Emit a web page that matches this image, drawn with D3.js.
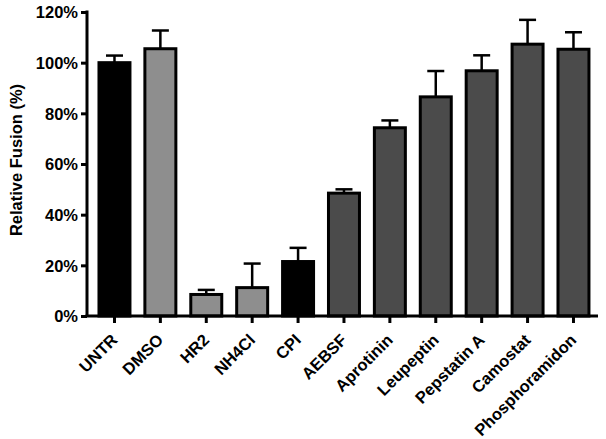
<!DOCTYPE html>
<html><head><meta charset="utf-8">
<script src="https://cdn.jsdelivr.net/npm/d3@7"></script>
<style>body{margin:0;background:#fff}svg{display:block}text{font-family:"Liberation Sans",Arial,sans-serif;font-weight:bold;fill:#000}</style>
</head><body>
<svg id="c" width="606" height="439"></svg>
<script>
const categories = ["UNTR","DMSO","HR2","NH4Cl","CPI","AEBSF","Aprotinin","Leupeptin","Pepstatin A","Camostat","Phosphoramidon"];
const values = [100, 105.5, 8.5, 11.2, 21.5, 48.5, 74.3, 86.5, 96.8, 107.3, 105.3];
const errors = [2.8, 7.2, 1.8, 9.5, 5.4, 1.5, 2.9, 10.2, 6.1, 9.6, 6.7];
const groups = ["black","light","light","light","black","dark","dark","dark","dark","dark","dark"];
const yTicks = [0,20,40,60,80,100,120];
const colors = {black:"#000000", light:"#8e8e8e", dark:"#4b4b4b"};

const svg = d3.select("#c");
const x = d3.scaleBand().domain(categories).range([87,598]).paddingInner(0.325).paddingOuter(0.229).align(0.57);
const y = d3.scaleLinear().domain([0,120]).range([316,12]);

// bars
const g = svg.append("g");
categories.forEach((c,i)=>{
  const bx = x(c), bw = x.bandwidth(), cx = bx + bw/2;
  g.append("line").attr("x1",cx).attr("x2",cx).attr("y1",y(values[i])).attr("y2",y(values[i]+errors[i]))
    .attr("stroke","#000").attr("stroke-width",2.5);
  g.append("line").attr("x1",cx-8.5).attr("x2",cx+8.5).attr("y1",y(values[i]+errors[i])).attr("y2",y(values[i]+errors[i]))
    .attr("stroke","#000").attr("stroke-width",2.5);
  g.append("rect").attr("x",bx).attr("y",y(values[i])).attr("width",bw).attr("height",y(0)-y(values[i]))
    .attr("fill",colors[groups[i]]).attr("stroke","#000").attr("stroke-width",3);
});

// y axis
const ya = svg.append("g").attr("transform","translate(87,0)")
  .call(d3.axisLeft(y).tickValues(yTicks).tickFormat(d=>d+"%").tickSize(6).tickPadding(3));
ya.select(".domain").attr("stroke-width",3).attr("d","M0,"+(y(120)-1.5)+"V"+y(0));
ya.selectAll(".tick line").attr("stroke-width",3);
ya.selectAll("text").attr("font-size",16.5).attr("font-family","Liberation Sans, Arial, sans-serif").attr("font-weight","bold").attr("dy","0.35em");

// x axis
const xa = svg.append("g").attr("transform","translate(0,316)")
  .call(d3.axisBottom(x).tickSize(7).tickSizeOuter(0));
xa.select(".domain").attr("stroke-width",3).attr("d","M85.5,0H598");
xa.selectAll(".tick line").attr("stroke-width",3);
xa.selectAll("text").attr("font-size",16.5).attr("font-family","Liberation Sans, Arial, sans-serif").attr("font-weight","bold")
  .attr("text-anchor","end").attr("y",0).attr("dy",0)
  .attr("transform","translate(4,25) rotate(-45)");

// y title
svg.append("text").attr("transform","translate(22,160) rotate(-90)").attr("text-anchor","middle")
  .attr("font-size",16.5).text("Relative Fusion (%)");
</script>
</body></html>
